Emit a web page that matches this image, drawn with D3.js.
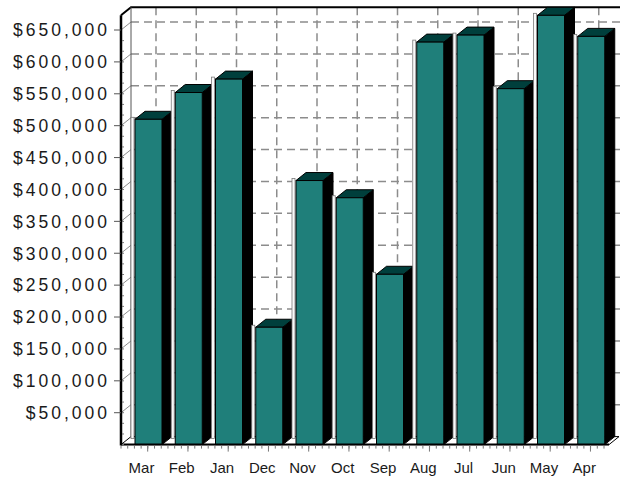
<!DOCTYPE html>
<html>
<head>
<meta charset="utf-8">
<script src="https://cdn.jsdelivr.net/npm/d3@7"></script>
<style>
  body { margin: 0; background: #fff; }
  text { font-family: "Liberation Sans", Arial, sans-serif; fill: #1a1a1a; }
</style>
</head>
<body>
<svg id="canvas" width="620" height="477"></svg>
<script>
// monthly sales
let months = ['Mar', 'Feb', 'Jan', 'Dec', 'Nov', 'Oct', 'Sep', 'Aug', 'Jul', 'Jun', 'May', 'Apr']
let sales = [510000, 552000, 573000, 184000, 414000, 387000, 267000, 631000, 642000, 558000, 673000, 640000]
let yTicks = [50000, 100000, 150000, 200000, 250000, 300000, 350000, 400000, 450000, 500000, 550000, 600000, 650000]
let yMax = 673000

let canvas = d3.select('#canvas')

// depth of the 3d box
let dx = 10
let dy = 8
let left = 121
let right = 609

let xScale = d3.scaleBand()
    .domain(months)
    .range([left, left + 12 * 40.25])

let yScale = d3.scaleLinear()
    .domain([0, 650000])
    .range([444.6, 30])

let y0 = yScale(0)
let yTop = yScale(yMax)
let fmt = d3.format('$,')

// back wall
canvas.append('rect')
    .attr('x', left + dx).attr('y', yTop - dy)
    .attr('width', right - left + 2).attr('height', y0 - yTop)
    .attr('fill', '#fff')

// left wall
canvas.append('path')
    .attr('d', `M${left},${yTop} L${left + dx},${yTop - dy} L${left + dx},${y0 - dy} L${left},${y0} Z`)
    .attr('fill', '#fff')

// floor
canvas.append('path')
    .attr('d', `M${left},${y0} L${left + dx},${y0 - dy} L${right + dx},${y0 - dy} L${right},${y0} Z`)
    .attr('fill', '#fff')
    .attr('stroke', '#000')
    .attr('stroke-width', 1)

// horizontal gridlines on back wall
canvas.selectAll('.hgrid')
    .data(yTicks)
    .enter()
    .append('line')
    .attr('class', 'hgrid')
    .attr('x1', left + dx).attr('x2', right + dx + 2)
    .attr('y1', (d) => yScale(d) - dy).attr('y2', (d) => yScale(d) - dy)
    .attr('stroke', '#8c8c8c').attr('stroke-width', 1.5)
    .attr('stroke-dasharray', '8,5')

// slanted gridlines on left wall
canvas.selectAll('.sgrid')
    .data(yTicks)
    .enter()
    .append('line')
    .attr('class', 'sgrid')
    .attr('x1', left).attr('x2', left + dx)
    .attr('y1', (d) => yScale(d)).attr('y2', (d) => yScale(d) - dy)
    .attr('stroke', '#8c8c8c').attr('stroke-width', 1)

// vertical gridlines on back wall
canvas.selectAll('.vgrid')
    .data(months)
    .enter()
    .append('line')
    .attr('class', 'vgrid')
    .attr('x1', (d) => xScale(d) + 25 + dx).attr('x2', (d) => xScale(d) + 25 + dx)
    .attr('y1', yTop - dy).attr('y2', y0 - dy)
    .attr('stroke', '#8c8c8c').attr('stroke-width', 1.5)
    .attr('stroke-dasharray', '8,5')

// back wall border
canvas.append('path')
    .attr('d', `M${left},${yTop} L${left + dx},${yTop - dy} L${right + dx + 2},${yTop - dy}`)
    .attr('fill', 'none').attr('stroke', '#000').attr('stroke-width', 2)
canvas.append('line')
    .attr('x1', left + dx).attr('x2', left + dx)
    .attr('y1', yTop - dy).attr('y2', y0 - dy)
    .attr('stroke', '#555').attr('stroke-width', 1)

// bars
let bw = 27
let bars = canvas.selectAll('.bar')
    .data(months)
    .enter()
    .append('g')
    .attr('class', 'bar')

bars.each(function (m, i) {
    let g = d3.select(this)
    let x = xScale(m) + 14
    let yv = yScale(sales[i])
    // thin light strip on the left of each bar
    g.append('rect')
        .attr('x', x - 4).attr('y', yv - 2)
        .attr('width', 3).attr('height', y0 - yv - 4)
        .attr('fill', '#fafafa').attr('stroke', '#7a7a7a').attr('stroke-width', 0.8)
    // side
    g.append('path')
        .attr('d', `M${x + bw},${yv} L${x + bw + dx},${yv - dy} L${x + bw + dx},${y0 - dy} L${x + bw},${y0} Z`)
        .attr('fill', '#000').attr('stroke', '#000')
    // top
    g.append('path')
        .attr('d', `M${x},${yv} L${x + dx},${yv - dy} L${x + bw + dx},${yv - dy} L${x + bw},${yv} Z`)
        .attr('fill', '#003f3c').attr('stroke', '#000').attr('stroke-width', 1)
    // front
    g.append('rect')
        .attr('x', x).attr('y', yv)
        .attr('width', bw).attr('height', y0 - yv)
        .attr('fill', '#1f7f7a').attr('stroke', '#000').attr('stroke-width', 1)
})

// front axes
canvas.append('line')
    .attr('x1', left).attr('x2', left)
    .attr('y1', yTop).attr('y2', y0 + 1)
    .attr('stroke', '#000').attr('stroke-width', 2.5)
canvas.append('line')
    .attr('x1', left).attr('x2', right)
    .attr('y1', y0).attr('y2', y0)
    .attr('stroke', '#000').attr('stroke-width', 2)

// y ticks and minor ticks
canvas.selectAll('.ytick')
    .data(yTicks)
    .enter()
    .append('line')
    .attr('class', 'ytick')
    .attr('x1', left - 7).attr('x2', left)
    .attr('y1', (d) => yScale(d)).attr('y2', (d) => yScale(d))
    .attr('stroke', '#555').attr('stroke-width', 1)

let minorY = d3.range(0, 650000, 50000 / 3)
canvas.selectAll('.yminor')
    .data(minorY)
    .enter()
    .append('line')
    .attr('class', 'yminor')
    .attr('x1', left + 1).attr('x2', left + 3)
    .attr('y1', (d) => yScale(d)).attr('y2', (d) => yScale(d))
    .attr('stroke', '#777').attr('stroke-width', 1)

canvas.selectAll('.ylabel')
    .data(yTicks)
    .enter()
    .append('text')
    .attr('class', 'ylabel')
    .attr('x', 110)
    .attr('y', (d) => yScale(d))
    .attr('dy', '0.36em')
    .attr('text-anchor', 'end')
    .style('font-size', '17.5px')
    .style('letter-spacing', '3px')
    .text((d) => fmt(d))

// x ticks
let minorX = d3.range(0, 12 * 6 + 1).map((k) => left + k * 40.25 / 6)
canvas.selectAll('.xminor')
    .data(minorX)
    .enter()
    .append('line')
    .attr('class', 'xminor')
    .attr('x1', (d) => d).attr('x2', (d) => d)
    .attr('y1', y0 + 1).attr('y2', y0 + 4)
    .attr('stroke', '#777').attr('stroke-width', 1)

canvas.selectAll('.xtick')
    .data(months)
    .enter()
    .append('line')
    .attr('class', 'xtick')
    .attr('x1', (d) => xScale(d) + 26.7).attr('x2', (d) => xScale(d) + 26.7)
    .attr('y1', y0 + 1).attr('y2', y0 + 7)
    .attr('stroke', '#777').attr('stroke-width', 1)

canvas.selectAll('.xlabel')
    .data(months)
    .enter()
    .append('text')
    .attr('class', 'xlabel')
    .attr('x', (d) => xScale(d) + 20.5)
    .attr('y', 473)
    .attr('text-anchor', 'middle')
    .style('font-size', '15px')
    .text((d) => d)
</script>
</body>
</html>
